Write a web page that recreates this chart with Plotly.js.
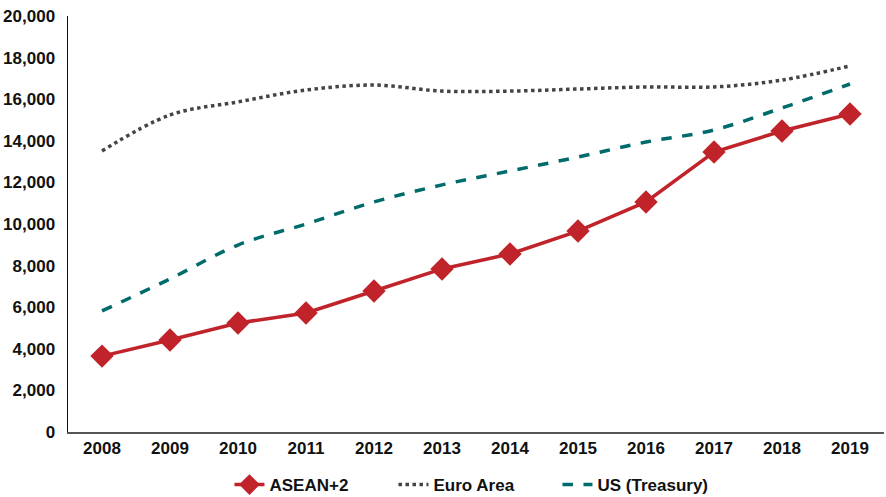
<!DOCTYPE html>
<html><head><meta charset="utf-8">
<script src="https://cdn.plot.ly/plotly-3.0.1.min.js"></script>
<style>body{margin:0;background:#fff}#c{width:886px;height:497px}</style>
</head><body><div id="c"></div>
<script>
const years = ['2008','2009','2010','2011','2012','2013','2014','2015','2016','2017','2018','2019'];
const asean = [3650, 4420, 5240, 5720, 6780, 7840, 8560, 9660, 11060, 13460, 14470, 15290];
const euro = [13510, 15240, 15870, 16440, 16680, 16390, 16390, 16490, 16590, 16590, 16920, 17600];
const us = [5820, 7360, 8990, 10000, 11060, 11880, 12550, 13220, 13940, 14520, 15580, 16730];

const data = [
  {x: years, y: asean, name: 'ASEAN+2', mode: 'lines+markers', type: 'scatter',
   line: {color: '#c0232a', width: 3.5}, marker: {symbol: 'diamond', size: 18, color: '#c0232a'}},
  {x: years, y: euro, name: 'Euro Area', mode: 'lines', type: 'scatter',
   line: {color: '#444444', width: 3.5, dash: 'dot', shape: 'spline'}},
  {x: years, y: us, name: 'US (Treasury)', mode: 'lines', type: 'scatter',
   line: {color: '#006b6b', width: 3.5, dash: 'dash', shape: 'spline'}}
];
const F = 'Liberation Sans, Arial, sans-serif';
const layout = {
  width: 886, height: 497,
  margin: {l: 68, r: 2, t: 16, b: 65},
  paper_bgcolor: '#fff', plot_bgcolor: '#fff',
  font: {family: F, size: 17, color: '#111'},
  showlegend: true,
  legend: {orientation: 'h', x: 0.259, xanchor: 'left', xref: 'container',
           y: 0.024, yanchor: 'middle', yref: 'container',
           font: {family: F, size: 17, color: '#111', weight: 'bold'},
           entrywidth: 119, traceorder: 'normal'},
  xaxis: {type: 'category', range: [-0.5, 11.5], showgrid: false, zeroline: false,
          showline: true, linecolor: '#555', linewidth: 1.5, ticks: '', automargin: false,
          tickfont: {family: F, size: 17, color: '#111', weight: 'bold'}},
  yaxis: {range: [0, 20000], dtick: 2000, tickformat: ',d', showgrid: false, zeroline: false,
          showline: true, linecolor: '#111', linewidth: 1.5, ticks: '', ticklabelstandoff: 8, automargin: false,
          tickfont: {family: F, size: 17, color: '#111', weight: 'bold'}}
};
Plotly.newPlot('c', data, layout, {displayModeBar: false, staticPlot: true});
</script></body></html>
